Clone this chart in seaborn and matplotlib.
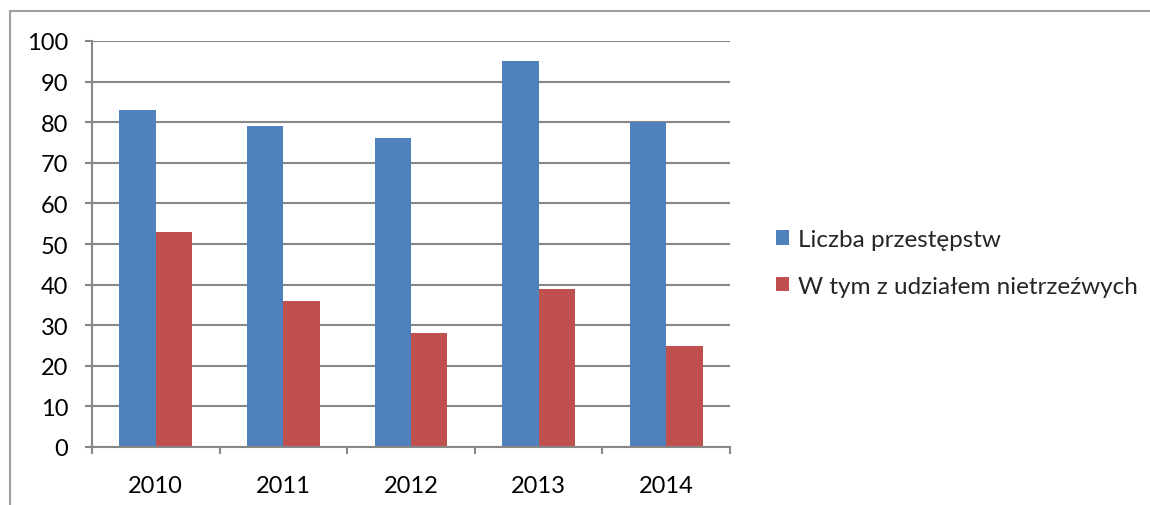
import matplotlib
matplotlib.use("Agg")
import matplotlib.pyplot as plt
import seaborn as sns
import pandas as pd
from matplotlib.lines import Line2D
from matplotlib.patches import Patch

years = ["2010", "2011", "2012", "2013", "2014"]
liczba = [83, 79, 76, 95, 80]
nietrzezwi = [53, 36, 28, 39, 25]
series_names = ["Liczba przestępstw", "W tym z udziałem nietrzeźwych"]
colors = ["#4F81BD", "#C0504D"]
yticks = [0, 10, 20, 30, 40, 50, 60, 70, 80, 90, 100]

sns.set_style("white")
plt.rcParams['font.family'] = ['Lato', 'DejaVu Sans']
FS = 17
LFS = 17.5

df = pd.DataFrame({
    "year": years * 2,
    "value": liczba + nietrzezwi,
    "series": [series_names[0]] * len(years) + [series_names[1]] * len(years),
})

fig = plt.figure(figsize=(11.5, 5.06), dpi=100)
ax = fig.add_axes([92/1150, 1 - 448/506, (730-92)/1150, (448-42)/506])

sns.barplot(data=df, x="year", y="value", hue="series", palette=colors,
            width=0.572, gap=0, ax=ax, legend=False, saturation=1,
            edgecolor="none")

ax.set_ylim(0, 100)
ax.set_xlim(-0.5, 4.5)
ax.set_yticks(yticks)
ax.set_yticklabels([str(t) for t in yticks])
ax.yaxis.grid(True, color="#878787", linewidth=1.5)
ax.set_axisbelow(True)
ax.set_xlabel("")
ax.set_ylabel("")

for s in ["top", "right"]:
    ax.spines[s].set_visible(False)
for s in ["left", "bottom"]:
    ax.spines[s].set_color("#878787")
    ax.spines[s].set_linewidth(1.5)

ax.tick_params(axis="y", which="major", left=True, length=5, width=1.5,
               color="#878787", pad=12, labelsize=FS, labelcolor="black")
ax.set_xticks([i - 0.5 for i in range(len(years) + 1)], minor=True)
ax.tick_params(axis="x", which="minor", bottom=True, length=5, width=1.5,
               color="#878787")
ax.tick_params(axis="x", which="major", bottom=False, length=0, pad=20,
               labelsize=FS, labelcolor="black")

# chart frame (top and left edges)
fig.add_artist(Line2D([10/1150, 10/1150], [0, 1 - 12/506], color="#A0A0A0",
                      linewidth=1.5, transform=fig.transFigure))
fig.add_artist(Line2D([10/1150, 1], [1 - 12/506, 1 - 12/506], color="#A0A0A0",
                      linewidth=1.5, transform=fig.transFigure))

handles = [Patch(facecolor=c, edgecolor="none") for c in colors]
fig.legend(handles, series_names, loc="center left",
           bbox_to_anchor=(754/1150, 1 - 264/506), frameon=False,
           fontsize=LFS, handlelength=0.55, handleheight=0.55,
           handletextpad=0.35, labelspacing=1.05)

fig.savefig("out.png", dpi=100, facecolor="white")
